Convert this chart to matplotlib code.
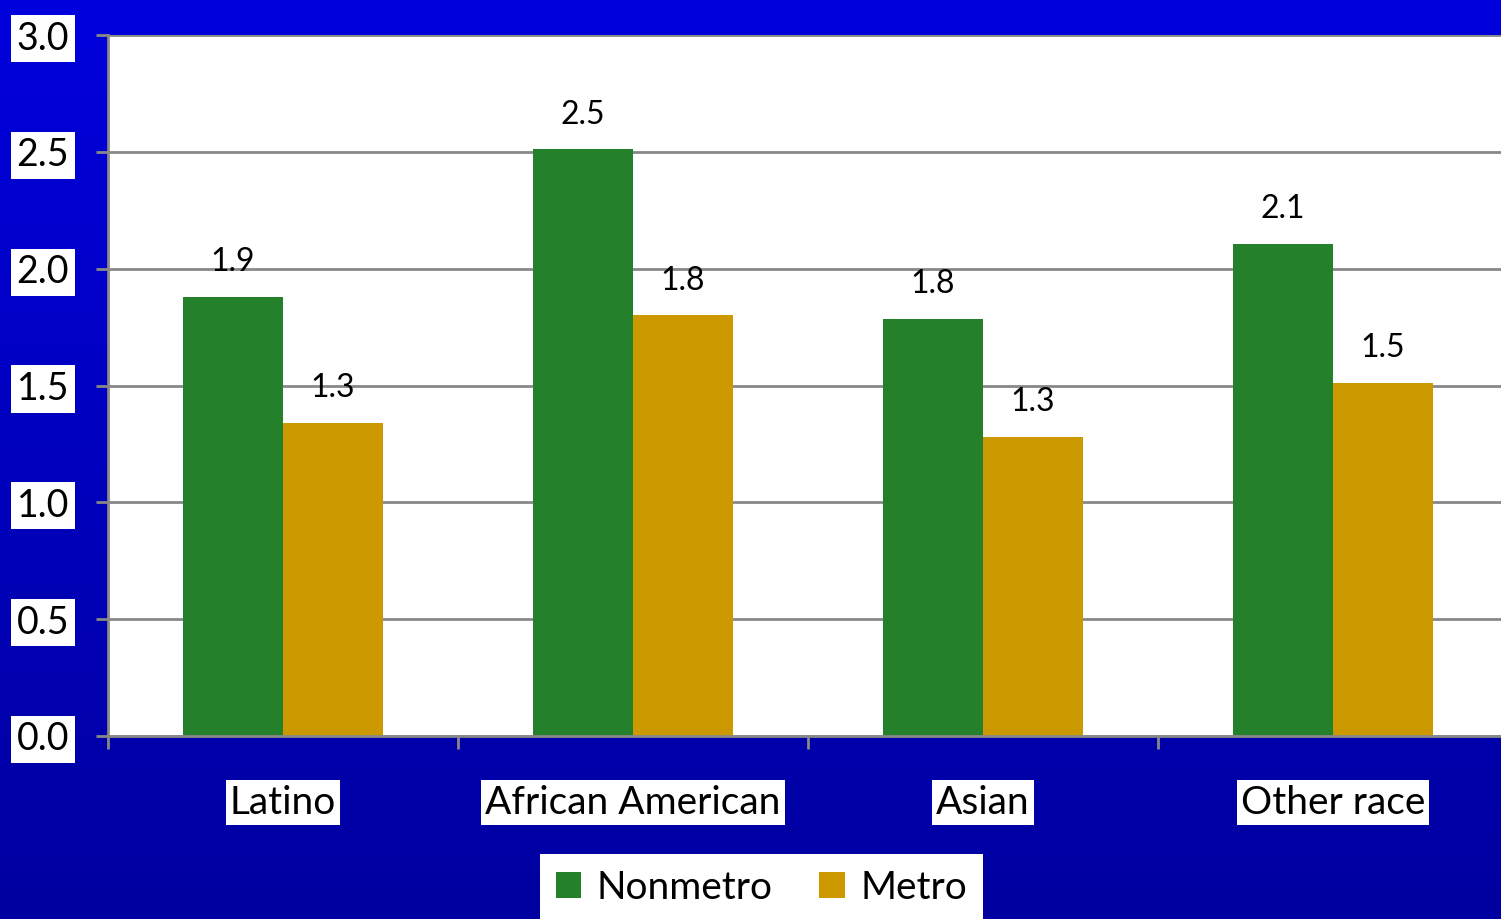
import numpy as np
import matplotlib
matplotlib.use("Agg")
import matplotlib.pyplot as plt
from matplotlib.colors import LinearSegmentedColormap

categories = ["Latino", "African American", "Asian", "Other race"]
nonmetro = [1.88, 2.51, 1.785, 2.105]
metro = [1.34, 1.80, 1.28, 1.51]
series_names = ["Nonmetro", "Metro"]
yticks = [0.0, 0.5, 1.0, 1.5, 2.0, 2.5, 3.0]

GREEN = "#25802b"
GOLD = "#cc9900"
GRID = "#888888"
FONT = ["Lato", "DejaVu Sans"]

plt.rcParams["font.family"] = FONT

W, H, DPI = 1501, 919, 100
fig = plt.figure(figsize=(W / DPI, H / DPI), dpi=DPI)

# vertical blue gradient behind everything
bg = fig.add_axes([0, 0, 1, 1], zorder=-10)
cmap = LinearSegmentedColormap.from_list("bg", ["#0000a0", "#0000dd"])
grad = np.linspace(0, 1, 256).reshape(-1, 1)
bg.imshow(grad, aspect="auto", cmap=cmap, origin="lower", extent=[0, 1, 0, 1])
bg.set_axis_off()

# plot area: x from 108px, each category 350px wide
left = 108 / W
bottom = (H - 736) / H
height = (736 - 35) / H
width = 1400 / W
ax = fig.add_axes([left, bottom, width, height])
ax.set_facecolor("white")

x = np.arange(len(categories)) + 0.5
bw = 100 / 350
ax.bar(x - bw / 2, nonmetro, bw, color=GREEN, label=series_names[0], zorder=3)
ax.bar(x + bw / 2, metro, bw, color=GOLD, label=series_names[1], zorder=3)

for xi, v in zip(x - bw / 2, nonmetro):
    ax.text(xi, v + 0.085, f"{v:.1f}", ha="center", va="bottom", fontsize=23, color="black", zorder=4)
for xi, v in zip(x + bw / 2, metro):
    ax.text(xi, v + 0.085, f"{v:.1f}", ha="center", va="bottom", fontsize=23, color="black", zorder=4)

ax.set_xlim(0, 4)
ax.set_ylim(0, 3.0)
ax.set_yticks(yticks)
ax.set_yticklabels([f"{t:.1f}" for t in yticks])
ax.yaxis.grid(True, color=GRID, linewidth=2, zorder=1)
ax.set_axisbelow(True)

for s in ["top", "right"]:
    ax.spines[s].set_visible(False)
for s in ["left", "bottom"]:
    ax.spines[s].set_color(GRID)
    ax.spines[s].set_linewidth(2)
    ax.spines[s].set_zorder(5)

ax.set_xticks([0, 1, 2, 3])
ax.set_xticklabels([])
ax.tick_params(axis="x", length=9, width=2, color=GRID, direction="out")
ax.tick_params(axis="y", length=9, width=2, color=GRID, direction="out", pad=19,
               labelsize=27, labelcolor="black")
for lab in ax.get_yticklabels():
    lab.set_bbox(dict(facecolor="white", edgecolor="none", pad=4))

# category labels in white boxes
for xi, name in zip(x, categories):
    ax.text(xi, -0.285, name, ha="center", va="center", fontsize=28, color="black",
            transform=ax.transData,
            bbox=dict(facecolor="white", edgecolor="none", pad=3), clip_on=False)

leg = fig.legend(loc="center", bbox_to_anchor=((533 + 990) / 2 / W, 1 - 888 / H),
                 ncol=2, fontsize=28, frameon=True, fancybox=False,
                 handlelength=0.65, handleheight=0.65, handletextpad=0.4,
                 columnspacing=1.2, borderpad=0.4)
leg.get_frame().set_facecolor("white")
leg.get_frame().set_edgecolor("none")
leg.get_frame().set_alpha(1)

fig.savefig("out.png", dpi=DPI)
